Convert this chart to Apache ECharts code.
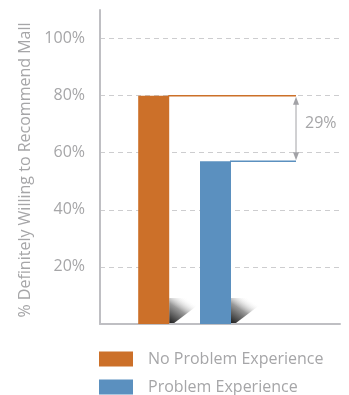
<!DOCTYPE html>
<html>
<head>
<meta charset="utf-8">
<script src="https://cdn.jsdelivr.net/npm/echarts@6/dist/echarts.min.js"></script>
<style>
  html, body { margin: 0; padding: 0; background: #fff; }
  #chart { width: 349px; height: 395px; }
</style>
</head>
<body>
<div id="chart"></div>
<script>
// Share of shoppers definitely willing to recommend the mall
const categories = ['No Problem Experience', 'Problem Experience'];
const willingPct = [80, 57];
const barColors = ['#cc7029', '#5b90bf'];
const yMax = 110;
const yStep = 20;
const yTitle = '% Definitely Willing to Recommend Mall';

// relative drop between the two groups, shown next to the arrow
const dropPct = Math.round((willingPct[0] - willingPct[1]) / willingPct[0] * 100);

const FONT = 'Open Sans';
const TEXT_GRAY = '#a6a6a8';
const AXIS_GRAY = '#bfbfc3';
const BAR_W = 31;
const ARROW_OFFSET = 65; // gap between the second bar and the arrow

const chart = echarts.init(document.getElementById('chart'), null, { renderer: 'canvas' });

// soft cast shadow at the foot of each bar
function renderShadow(params, api) {
  const base = api.coord([api.value(0), 0]);
  const right = base[0] + BAR_W / 2;
  const y0 = base[1] - 1;
  const h = 25, w = 38, foot = 5;
  return {
    type: 'polygon',
    shape: { points: [[right, y0], [right, y0 - h], [right + w, y0 - h], [right + foot, y0]] },
    style: {
      fill: new echarts.graphic.LinearGradient(0, 1, 0.45, 0, [
        { offset: 0, color: '#1e1e1e' },
        { offset: 0.55, color: '#9a9a9a' },
        { offset: 1, color: 'rgba(255,255,255,0)' }
      ])
    }
  };
}

// line from each bar top to the comparison arrow
function renderConnector(params, api) {
  const idx = api.value(0);
  const top = api.coord([idx, api.value(1)]);
  const arrowX = api.coord([categories.length - 1, 0])[0] + BAR_W / 2 + ARROW_OFFSET;
  return {
    type: 'line',
    shape: { x1: top[0] + BAR_W / 2 - 1, y1: top[1], x2: arrowX, y2: top[1] },
    style: { stroke: barColors[idx], lineWidth: 1.5 }
  };
}

// double-headed arrow with the relative difference
function renderArrow(params, api) {
  const last = categories.length - 1;
  const a = api.coord([last, api.value(0)]);
  const b = api.coord([last, api.value(1)]);
  const x = a[0] + BAR_W / 2 + ARROW_OFFSET;
  const yTop = a[1] + 1, yBot = b[1] - 1;
  const hw = 3, hh = 8;
  const gray = '#a2a2a6';
  return {
    type: 'group',
    children: [
      { type: 'line', shape: { x1: x, y1: yTop + 3, x2: x, y2: yBot - 3 }, style: { stroke: gray, lineWidth: 1 } },
      { type: 'polygon', shape: { points: [[x, yTop], [x - hw, yTop + hh], [x + hw, yTop + hh]] }, style: { fill: gray } },
      { type: 'polygon', shape: { points: [[x, yBot], [x - hw, yBot - hh], [x + hw, yBot - hh]] }, style: { fill: gray } },
      {
        type: 'text',
        x: x + 9,
        y: (yTop + yBot) / 2 - 5,
        style: {
          text: dropPct + '%', fill: TEXT_GRAY, font: '16px "' + FONT + '"',
          textAlign: 'left', textVerticalAlign: 'middle'
        }
      }
    ]
  };
}

const option = {
  animation: false,
  textStyle: { fontFamily: FONT },
  grid: [
    // frame: axes and gridlines
    { left: 100, right: 9, top: 10, bottom: 71 },
    // bars
    { left: 122.8, width: 123.6, top: 10, bottom: 71 }
  ],
  xAxis: [
    {
      gridIndex: 0, type: 'value', min: 0, max: 1,
      axisLine: { show: true, lineStyle: { color: AXIS_GRAY, width: 2 } },
      axisTick: { show: false }, axisLabel: { show: false }, splitLine: { show: false }
    },
    {
      gridIndex: 1, type: 'category', data: categories, show: false
    }
  ],
  yAxis: [
    {
      gridIndex: 0, type: 'value', min: 0, max: yMax, interval: yStep,
      name: yTitle, nameLocation: 'middle', nameGap: 64, nameRotate: 90,
      nameTextStyle: { color: TEXT_GRAY, fontSize: 16, fontFamily: FONT, padding: [0, 6, 0, 0] },
      axisLine: { show: true, lineStyle: { color: AXIS_GRAY, width: 2 } },
      axisTick: { show: false },
      axisLabel: {
        color: TEXT_GRAY, fontSize: 16, fontFamily: FONT, margin: 15,
        showMaxLabel: false, showMinLabel: false,
        formatter: v => (v > 100 || v === 0) ? '' : v + '%'
      },
      splitLine: {
        show: true, showMinLine: false, showMaxLine: false,
        lineStyle: { color: '#cdcdcf', type: [5, 4], width: 1 }
      }
    },
    { gridIndex: 1, type: 'value', min: 0, max: yMax, show: false }
  ],
  legend: {
    orient: 'vertical', left: 99, top: 351, height: 80, padding: 0,
    itemWidth: 34, itemHeight: 15, itemGap: 12,
    icon: 'rect',
    data: categories,
    textStyle: { color: TEXT_GRAY, fontSize: 16, fontFamily: FONT, lineHeight: 15, padding: [0, 0, 0, 10] }
  },
  series: [
    {
      type: 'custom', name: 'shadow', xAxisIndex: 1, yAxisIndex: 1, z: 1, silent: true,
      data: willingPct.map((v, i) => [i, v]),
      renderItem: renderShadow
    },
    ...categories.map((name, i) => ({
      type: 'bar', name: name, xAxisIndex: 1, yAxisIndex: 1, stack: 'bars', z: 3,
      barWidth: BAR_W,
      itemStyle: { color: barColors[i] },
      data: willingPct.map((v, j) => (j === i ? v : '-'))
    })),
    {
      type: 'custom', name: 'connector', xAxisIndex: 1, yAxisIndex: 1, z: 4, silent: true,
      data: willingPct.map((v, i) => [i, v]),
      renderItem: renderConnector
    },
    {
      type: 'custom', name: 'arrow', xAxisIndex: 1, yAxisIndex: 1, z: 4, silent: true,
      data: [[willingPct[0], willingPct[1]]],
      renderItem: renderArrow
    }
  ]
};

chart.setOption(option);
</script>
</body>
</html>
